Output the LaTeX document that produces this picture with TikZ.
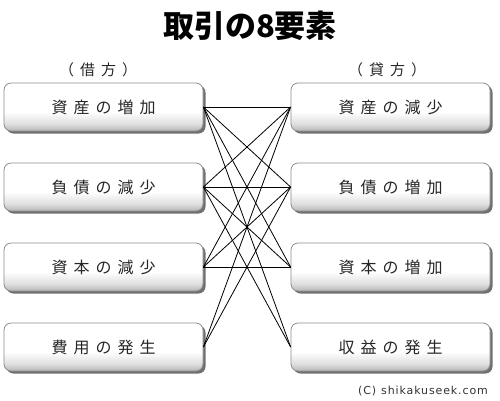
\documentclass[tikz,border=0pt]{standalone}
\usepackage{fontspec}
\newfontfamily\jp{Noto Sans CJK JP}
\newfontfamily\cpfont[LetterSpace=8]{DejaVu Sans}
\usetikzlibrary{shadows}
\pgfdeclareverticalshading{boxshade}{100bp}{color(0bp)=(black!28); color(25bp)=(black!28); color(33bp)=(black!12); color(45bp)=(white); color(100bp)=(white)}
\newcommand\gp{\kern6pt\relax}
\begin{document}
\begin{tikzpicture}[x=1pt,y=-1pt,
  elbox/.style={draw=black!45, line width=0.8pt, rounded corners=7pt, shading=boxshade,
    minimum width=199pt, minimum height=48pt, inner sep=0pt,
    font=\jp\fontsize{16}{16}\selectfont, text=black!85,
    drop shadow={shadow xshift=2.5pt, shadow yshift=-2.5pt, fill=black!70, opacity=0.8}},
  hdr/.style={font=\jp\fontsize{15}{15}\selectfont, text=black!85, inner sep=0pt},
  link/.style={line width=0.8pt, black}]
\useasboundingbox (0,0) rectangle (500,400);
\node[font=\jp\bfseries\fontsize{31}{31}\selectfont, inner sep=0pt] (title) at (250,26) {取引の8要素};
\node[hdr] (dh) at (98,70) {（\gp 借\gp 方\gp ）};
\node[hdr] (ch) at (387,70) {（\gp 貸\gp 方\gp ）};
\node[elbox] (L1) at (103.5,107) {資\gp 産\gp の\gp 増\gp 加};
\node[elbox] (L2) at (103.5,187) {負\gp 債\gp の\gp 減\gp 少};
\node[elbox] (L3) at (103.5,267) {資\gp 本\gp の\gp 減\gp 少};
\node[elbox] (L4) at (103.5,347) {費\gp 用\gp の\gp 発\gp 生};
\node[elbox] (R1) at (390.5,107) {資\gp 産\gp の\gp 減\gp 少};
\node[elbox] (R2) at (390.5,187) {負\gp 債\gp の\gp 増\gp 加};
\node[elbox] (R3) at (390.5,267) {資\gp 本\gp の\gp 増\gp 加};
\node[elbox] (R4) at (390.5,347) {収\gp 益\gp の\gp 発\gp 生};
\foreach \r in {R1,R2,R3,R4} \draw[link] (L1.east) -- (\r.west);
\foreach \r in {R1,R2,R3,R4} \draw[link] (L2.east) -- (\r.west);
\foreach \r in {R1,R2,R3} \draw[link] (L3.east) -- (\r.west);
\foreach \r in {R1,R2} \draw[link] (L4.east) -- (\r.west);
\node[font=\cpfont\fontsize{11}{11}\selectfont, text=black!80, inner sep=0pt] (copy) at (423,391) {(C)\hspace{5pt}shikakuseek.com};
\end{tikzpicture}
\end{document}
